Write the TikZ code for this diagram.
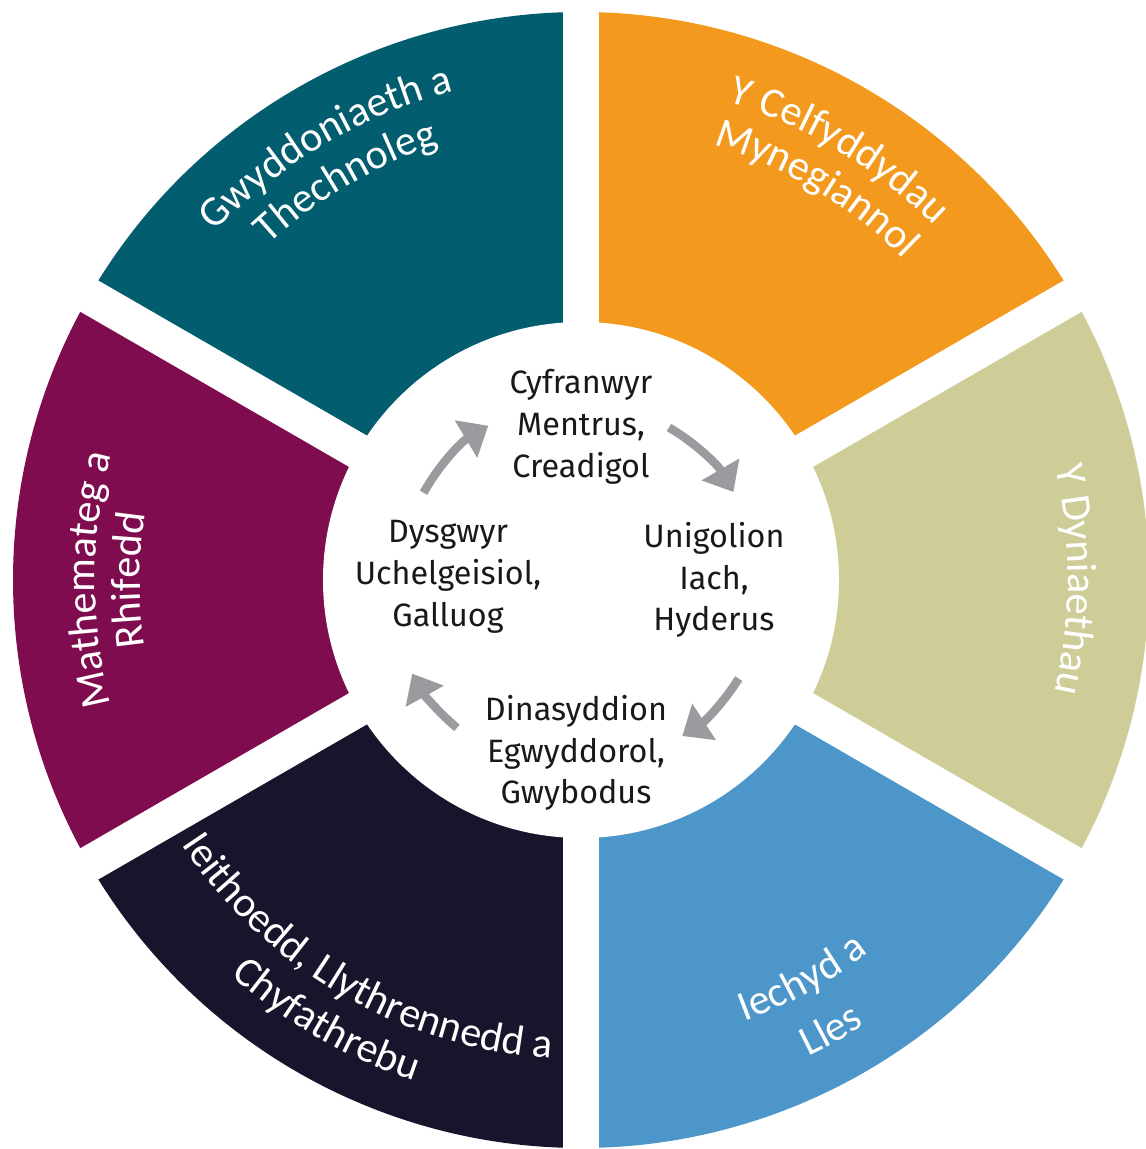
\documentclass[tikz,border=0pt]{standalone}
\usepackage{fontspec}
\usetikzlibrary{arrows.meta,decorations.text}
\newfontfamily\outerfont{Carlito}
\newfontfamily\innerfont{Fira Sans}
\definecolor{segteal}{HTML}{025D6F}
\definecolor{segorange}{HTML}{F39A1E}
\definecolor{segkhaki}{HTML}{CECD97}
\definecolor{segblue}{HTML}{4C96CA}
\definecolor{segnavy}{HTML}{17142C}
\definecolor{segpurple}{HTML}{7F0C4E}
\definecolor{arrowgrey}{HTML}{9A9B9E}
\newcommand\labelfont{\outerfont\fontsize{12pt}{14pt}\selectfont\color{white}}
\def\segment(#1:#2)#3{\fill[#3] (0,0) -- (#1:5.68) arc[start angle=#1,end angle=#2,radius=5.68] -- cycle;}
\def\arclabel(#1:#2:#3)#4{\path[decorate,decoration={text along path,text align=center,text={|\labelfont|#4}}] (#1:#3) arc[start angle=#1,end angle=#2,radius=#3];}
\tikzset{
	cyclearrow/.style={draw=arrowgrey, line width=0.85mm, -{Triangle[length=2.6mm,width=4.2mm]}},
	value/.style={font=\innerfont\fontsize{9.2pt}{11.9pt}\selectfont, align=center, text=black!90}
}

\begin{document}
\begin{tikzpicture}
		%%%%% START %%%%%
		
		\path[use as bounding box, fill=white] (-5.81,-5.69) rectangle (5.64,5.80);
		
		% six areas
		\segment(90:150){segteal}
		\segment(30:90){segorange}
		\segment(-30:30){segkhaki}
		\segment(-90:-30){segblue}
		\segment(210:270){segnavy}
		\segment(150:210){segpurple}
		
		\foreach \a in {30,90,150}
			\draw[white, line width=3.6mm] (\a:5.75) -- ({\a+180}:5.75);
		
		\fill[white] (0,0) circle (2.58);
		
		% labels round the ring
		\arclabel(165:76:5.05){Gwyddoniaeth a}
		\arclabel(165:76:4.58){Thechnoleg}
		\arclabel(104:14:5.00){Y Celfyddydau}
		\arclabel(104:14:4.55){Mynegiannol}
		\arclabel(45:-45:4.87){Y Dyniaethau}
		\arclabel(-106:-16:4.71){Iechyd a}
		\arclabel(-106:-16:5.28){Lles}
		\arclabel(190:290:4.79){Ieithoedd, Llythrennedd a}
		\arclabel(190:290:5.28){Chyfathrebu}
		\arclabel(225:135:4.86){Mathemateg a}
		\arclabel(225:135:4.41){Rhifedd}
		
		% the four purposes
		\node[value] (cyfranwyr) at (0,1.53) {Cyfranwyr\\Mentrus,\\Creadigol};
		\node[value] (unigolion) at (1.33,0) {Unigolion\\Iach,\\Hyderus};
		\node[value] (dinasyddion) at (-0.05,-1.73) {Dinasyddion\\Egwyddorol,\\Gwybodus};
		\node[value] (dysgwyr) at (-1.33,0.03) {Dysgwyr\\Uchelgeisiol,\\Galluog};
		
		\coordinate (a1) at (151:1.80);
		\coordinate (a2) at (60:1.76);
		\coordinate (a3) at (-32:1.86);
		\coordinate (a4) at (230:1.93);
		\draw[cyclearrow] (a1) arc[start angle=151,end angle=121,radius=1.80];
		\draw[cyclearrow] (a2) arc[start angle=60,end angle=30,radius=1.76];
		\draw[cyclearrow] (a3) arc[start angle=-32,end angle=-57,radius=1.86];
		\draw[cyclearrow] (a4) arc[start angle=230,end angle=209,radius=1.93];
		
		%%%%% END %%%%%
\end{tikzpicture}
\end{document}
